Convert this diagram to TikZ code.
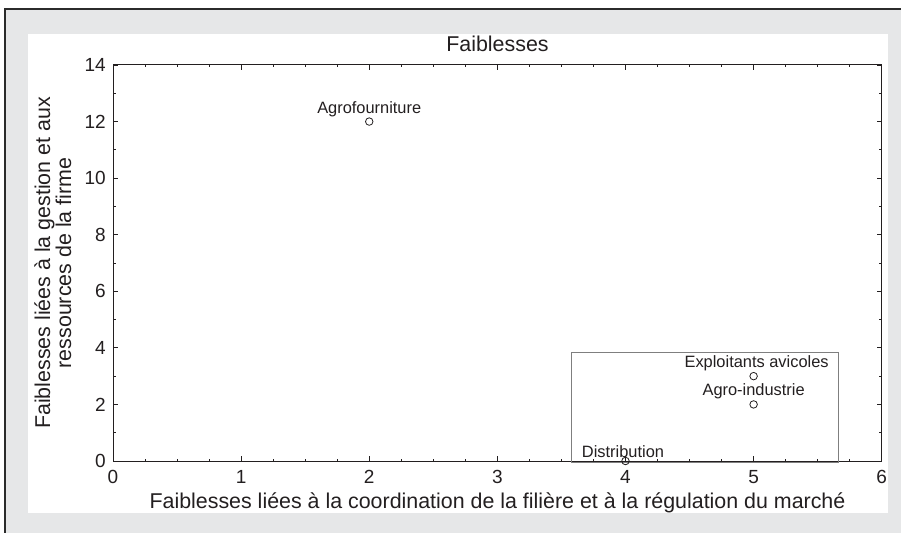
\documentclass[tikz,border=0pt]{standalone}
\usepackage{fontspec}
\setmainfont{Liberation Sans}
\definecolor{panelgray}{HTML}{E6E7E8}
\definecolor{bordercol}{HTML}{2B2B2B}
\definecolor{boxgray}{HTML}{7F7F7F}
\definecolor{inkcol}{HTML}{231F20}
\begin{document}
\begin{tikzpicture}[x=1bp,y=-1bp,
  every node/.style={text=inkcol},
  axisfont/.style={font=\fontsize{21.4bp}{24bp}\selectfont},
  tickfont/.style={font=\fontsize{19bp}{22bp}\selectfont},
  ptfont/.style={font=\fontsize{16.4bp}{19bp}\selectfont},
  pt/.style={circle, draw=inkcol, line width=0.8bp, minimum size=7.5bp, inner sep=0pt},
  lbl/.style={ptfont, anchor=base, inner sep=0pt},
  majortick/.style={draw=inkcol, line width=0.9bp},
  minortick/.style={draw=inkcol, line width=0.7bp},
]
\useasboundingbox (0,0) rectangle (901,533);
\fill[white] (0,0) rectangle (901,533);
\fill[panelgray] (5,9) rectangle (901,533);
\draw[line width=1.5bp, bordercol] (901,9) -- (5,9) -- (5,533);
\fill[white] (28,34) rectangle (888,513);

\node[axisfont, anchor=base, inner sep=0pt] (title) at (497.5,52) {Faiblesses};
\node[axisfont, anchor=base, inner sep=0pt] (xlabel) at (497.5,508)
  {Faiblesses liées à la coordination de la filière et à la régulation du marché};
\node[axisfont, anchor=base, inner sep=0pt, rotate=90] (ylabel1) at (50,263)
  {Faiblesses liées à la gestion et aux};
\node[axisfont, anchor=base, inner sep=0pt, rotate=90] (ylabel2) at (71,263)
  {ressources de la firme};

\begin{scope}[shift={(113,461)}, x=128.12bp, y=28.286bp]
  % ticks
  \foreach \i in {0,...,6} {
    \draw[majortick] (\i,0) -- ++(0,5bp);
    \draw[majortick] (\i,14) -- ++(0,-5bp);
    \node[tickfont, anchor=base, inner sep=0pt] (xt\i) at ([yshift=-22bp]\i,0) {\i};
  }
  \foreach \i in {0.25,0.5,...,5.8} {
    \draw[minortick] (\i,0) -- ++(0,2.5bp);
    \draw[minortick] (\i,14) -- ++(0,-2.5bp);
  }
  \foreach \j in {0,2,...,14} {
    \draw[majortick] (0,\j) -- ++(5bp,0);
    \draw[majortick] (6,\j) -- ++(-5bp,0);
    \node[tickfont, anchor=east, inner sep=0pt] (yt\j) at ([xshift=-7bp]0,\j) {\j};
  }
  \foreach \j in {1,3,...,13} {
    \draw[minortick] (0,\j) -- ++(2.5bp,0);
    \draw[minortick] (6,\j) -- ++(-2.5bp,0);
  }
  % axes frame
  \draw[draw=inkcol, line width=1bp] (0,0) rectangle (6,14);

  % highlight box
  \draw[boxgray, line width=1bp] (3.58,-0.07) rectangle (5.66,3.85);

  % points
  \node[pt] (agrof) at (2,12) {};
  \node[pt] (exploit) at (5,3) {};
  \node[pt] (agroind) at (5,2) {};
  \node[pt] (distrib) at (4,0) {};

  \node[lbl] (agroflbl) at ([yshift=8.5bp]agrof.center) {Agrofourniture};
  \node[lbl] (exploitlbl) at ([xshift=3bp,yshift=9bp]exploit.center) {Exploitants avicoles};
  \node[lbl] (agroindlbl) at ([yshift=9.4bp]agroind.center) {Agro-industrie};
  \node[lbl] (distriblbl) at ([xshift=-2.5bp,yshift=4bp]distrib.center) {Distribution};
\end{scope}
\end{tikzpicture}
\end{document}
